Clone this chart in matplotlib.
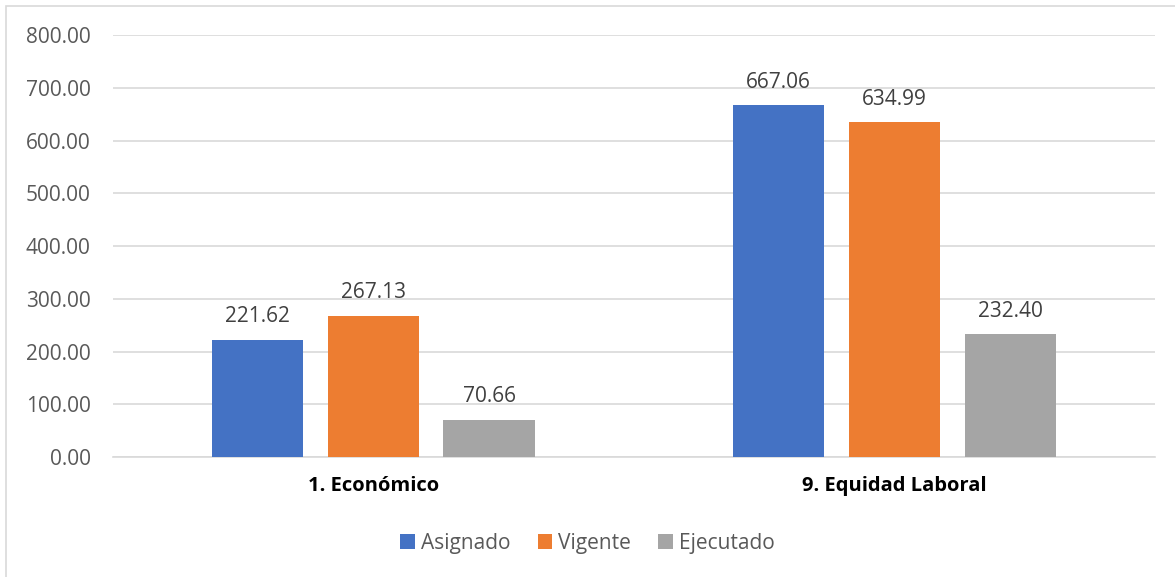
import numpy as np
import matplotlib.pyplot as plt
from matplotlib.patches import Rectangle

categories = ["1. Económico", "9. Equidad Laboral"]
series_names = ["Asignado", "Vigente", "Ejecutado"]
asignado = [221.62, 667.06]
vigente = [267.13, 634.99]
ejecutado = [70.66, 232.40]
colors = ["#4472C4", "#ED7D31", "#A5A5A5"]

plt.rcParams['font.family'] = ['Open Sans', 'DejaVu Sans']

fig = plt.figure(figsize=(11.75, 5.77), dpi=100)
ax = fig.add_axes([0.096, 0.208, 0.887, 0.731])

# light frame, only its left and top edges fall inside the picture
fig.patches.append(Rectangle((0.0055, -0.05), 1.1, 1.04, transform=fig.transFigure,
                             fill=False, edgecolor="#D9D9D9", linewidth=1.2))

x = np.arange(len(categories))
width = 0.175
step = 0.222
for i, (name, vals) in enumerate(zip(series_names, [asignado, vigente, ejecutado])):
    pos = x + (i - 1) * step
    ax.bar(pos, vals, width, color=colors[i], label=name, zorder=3)
    for p, v in zip(pos, vals):
        ax.text(p, v + 24, f"{v:.2f}", ha="center", va="bottom",
                fontsize=15, color="#404040")

ax.set_xlim(-0.5, 1.5)
ax.set_ylim(0, 800)
ax.set_yticks(np.arange(0, 801, 100))
ax.set_yticklabels([f"{t:.2f}" for t in np.arange(0, 801, 100)])
ax.set_xticks(x)
ax.set_xticklabels(categories, fontweight="bold", fontsize=14.5, color="black")
ax.tick_params(axis="y", labelsize=15, labelcolor="#595959", length=0, pad=16)
ax.tick_params(axis="x", length=0, pad=14)
ax.grid(axis="y", color="#D9D9D9", linewidth=1.2, zorder=0)
for s in ["top", "right", "left"]:
    ax.spines[s].set_visible(False)
ax.spines["bottom"].set_color("#D9D9D9")
ax.spines["bottom"].set_linewidth(1.2)

leg = fig.legend(loc="center", bbox_to_anchor=(0.5, 0.058), ncol=3, frameon=False,
                 fontsize=15, handlelength=0.7, handleheight=0.7, handletextpad=0.3,
                 columnspacing=1.3)
for t in leg.get_texts():
    t.set_color("#595959")

fig.savefig("out.png", dpi=100)
